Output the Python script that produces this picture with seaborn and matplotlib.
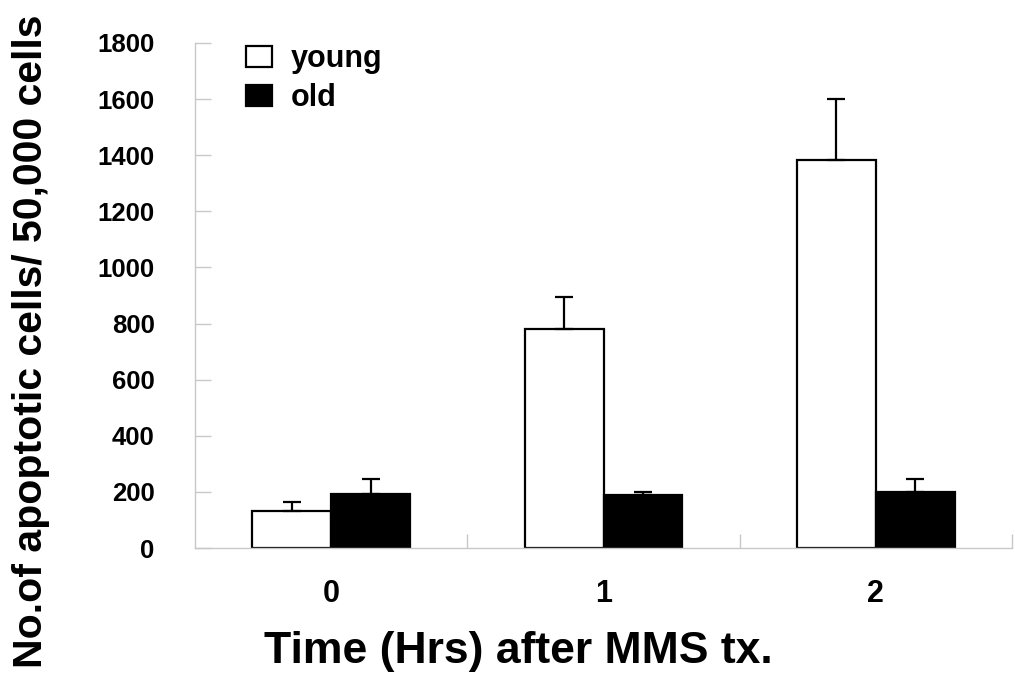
import matplotlib
matplotlib.use("Agg")
import matplotlib.pyplot as plt
from matplotlib.patches import Patch
from matplotlib.ticker import FixedLocator
import seaborn as sns
import pandas as pd

# ---- data ----
times = ["0", "1", "2"]
groups = ["young", "old"]
young_means = [132, 780, 1383]
young_err = [32, 114, 217]
old_means = [192, 189, 200]
old_err = [54, 10, 46]
yticks = [0, 200, 400, 600, 800, 1000, 1200, 1400, 1600, 1800]

df = pd.DataFrame({
    "time": times * 2,
    "group": ["young"] * 3 + ["old"] * 3,
    "value": young_means + old_means,
})
errs = {"young": young_err, "old": old_err}

sns.set_style("white")
plt.rcParams["font.family"] = ["Liberation Sans", "DejaVu Sans"]
plt.rcParams["font.weight"] = "bold"
plt.rcParams["text.color"] = "black"
plt.rcParams["xtick.color"] = "black"
plt.rcParams["ytick.color"] = "black"
plt.rcParams["xtick.labelcolor"] = "black"
plt.rcParams["ytick.labelcolor"] = "black"

fig = plt.figure(figsize=(10.15, 6.75), dpi=100)
ax = fig.add_axes([195 / 1015, (675 - 548) / 675, (1012 - 195) / 1015, (548 - 43) / 675])

sns.barplot(data=df, x="time", y="value", hue="group", order=times, hue_order=groups,
            palette={"young": "white", "old": "black"}, edgecolor="black",
            linewidth=1.6, width=0.58, errorbar=None, legend=False, ax=ax)

for cont, g in zip(ax.containers, groups):
    xs = [b.get_x() + b.get_width() / 2 for b in cont]
    hs = [b.get_height() for b in cont]
    e = errs[g]
    ax.errorbar(xs, hs, yerr=[[0] * len(e), e], fmt="none", ecolor="black",
                elinewidth=1.6, capsize=6.5, capthick=1.6, zorder=1)

ax.set_xlim(-0.5, 2.5)
ax.set_ylim(0, 1800)
ax.set_yticks(yticks)
ax.set_yticklabels([str(v) for v in yticks])

grey = "#c8c8c8"
for s in ["top", "right"]:
    ax.spines[s].set_visible(False)
for s in ["left", "bottom"]:
    ax.spines[s].set_color(grey)
    ax.spines[s].set_linewidth(1.0)

ax.tick_params(axis="y", left=True, direction="in", length=11.5, color=grey, width=1.0,
               pad=29, labelsize=18.5, labelcolor="black")
ax.tick_params(axis="x", which="major", bottom=True, length=0, pad=22, labelsize=22,
               labelcolor="black")
ax.xaxis.set_minor_locator(FixedLocator([0.5, 1.5, 2.5]))
ax.tick_params(axis="x", which="minor", bottom=True, direction="in", length=10,
               color=grey, width=1.0)
for lab in ax.get_xticklabels() + ax.get_yticklabels():
    lab.set_fontweight("bold")

ax.set_xlabel("")
ax.set_ylabel("")
fig.text(0.511, 0.035, "Time (Hrs) after MMS tx.", ha="center", va="center",
         fontsize=32, fontweight="bold", color="black")
fig.text(0.031, 0.495, "No.of apoptotic cells/ 50,000 cells", ha="center", va="center",
         rotation=90, fontsize=29.5, fontweight="bold", color="black")

handles = [Patch(facecolor="white", edgecolor="black", linewidth=1.6),
           Patch(facecolor="black", edgecolor="black", linewidth=1.6)]
leg = ax.legend(handles, groups, loc="upper left",
                bbox_to_anchor=(246 / 1015, 1 - 44 / 675), bbox_transform=fig.transFigure,
                frameon=False, fontsize=22, handlelength=0.85, handleheight=0.66,
                handletextpad=0.6, labelspacing=0.3, borderpad=0, borderaxespad=0)
for t in leg.get_texts():
    t.set_fontweight("bold")
    t.set_color("black")

fig.savefig("out.png", dpi=100)
